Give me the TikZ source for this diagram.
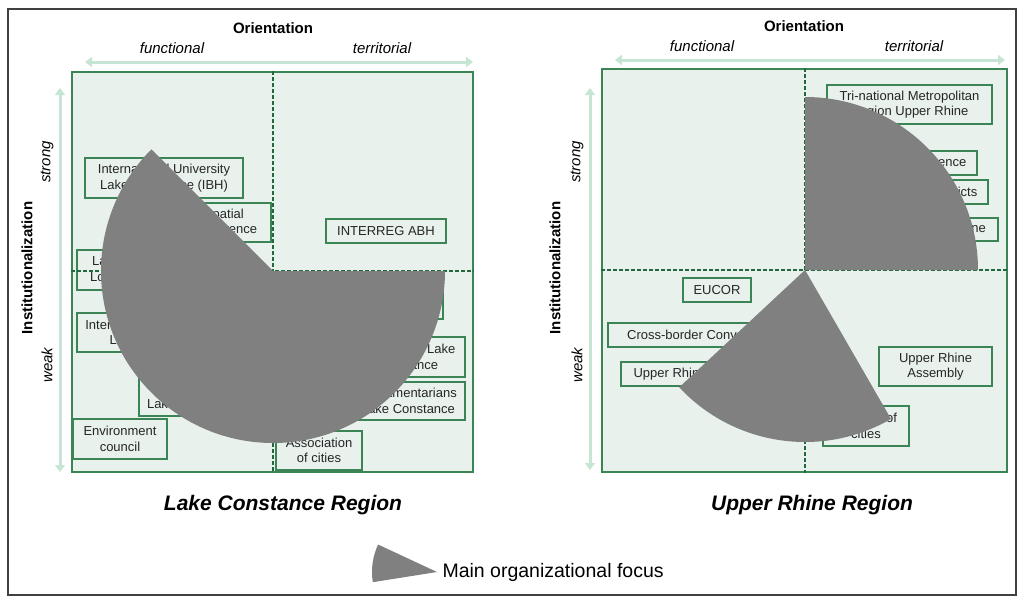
\documentclass[tikz,border=0pt]{standalone}
\usepackage{fontspec}
\setmainfont{Liberation Sans}
\usepackage{tikz}
\usetikzlibrary{arrows.meta,positioning,calc}

\definecolor{panelfill}{RGB}{232,241,236}
\definecolor{framegreen}{RGB}{58,132,86}
\definecolor{dashgreen}{RGB}{34,104,62}
\definecolor{axismint}{RGB}{198,229,212}
\definecolor{focusgray}{RGB}{128,128,128}

\begin{document}
\begin{tikzpicture}[
  x=1pt, y=-1pt,
  font=\fontsize{13}{15.5}\selectfont,
  panel/.style   = {draw=framegreen, fill=panelfill, line width=1.8pt},
  divider/.style = {dashgreen, dash pattern=on 4pt off 2pt, line width=1.5pt},
  org/.style     = {draw=framegreen, fill=panelfill, line width=1.3pt, align=center,
                    inner sep=1pt, text=black!85},
  axarrow/.style = {axismint, line width=3pt,
                    arrows={Triangle[length=7pt,width=10pt]-Triangle[length=7pt,width=10pt]}},
  focus/.style   = {fill=focusgray},
  axtitle/.style = {font=\fontsize{15}{18}\selectfont\bfseries},
  axend/.style   = {font=\fontsize{15}{18}\selectfont\itshape},
  regname/.style = {font=\fontsize{21}{25}\selectfont\bfseries\itshape},
  legtext/.style = {font=\fontsize{19.5}{23}\selectfont},
]
\useasboundingbox (0,0) rectangle (1024,605);
\draw[black!75, line width=1.6pt] (8,9) rectangle (1016,595);

% ----------------------------- Lake Constance panel -----------------------
\node[panel, minimum width=401pt, minimum height=400pt] (lpan) at (272.5,272) {};
\coordinate (lx) at (273,271);

\node[org, minimum width=158pt, minimum height=40pt] (ibh) at (164,178)
  {International University\\Lake Constance (IBH)};
\node[org, minimum width=149pt, minimum height=39pt] (spat) at (196.5,222.5)
  {Regional Spatial\\Planning Conference};
\node[org, minimum width=124pt, minimum height=40pt] (agenda) at (139,270)
  {Lake Constance\\Local Agenda 21};
\node[org, minimum width=159pt, minimum height=39pt] (iconf) at (156.5,332.5)
  {International Conference\\Lake Constance};
\node[org, minimum width=110pt, minimum height=40pt] (tour) at (194,396)
  {Tourism Board\\Lake Constance};
\node[org, minimum width=94pt, minimum height=40pt] (env) at (120,439)
  {Environment\\council};
\node[org, minimum width=120pt, minimum height=24pt] (iabh) at (386,231)
  {INTERREG ABH};
\node[org, minimum width=120pt, minimum height=39pt] (lcc) at (383,299.5)
  {Lake Constance\\Council};
\node[org, minimum width=116pt, minimum height=40pt] (found) at (407,357)
  {Foundation Lake\\Constance};
\node[org, minimum width=114pt, minimum height=38pt] (parl) at (408,401)
  {Parliamentarians\\Lake Constance};
\node[org, minimum width=86pt, minimum height=39pt] (lcity) at (319,450.5)
  {Association\\of cities};

\draw[divider] (lpan.north -| lx) -- (lpan.south -| lx);
\draw[divider] (lpan.west |- lx) -- (lpan.east |- lx);

\fill[focus] (lx) -- ++(-135:172) arc[start angle=-135, end angle=-360, radius=172] -- cycle;

% axes
\coordinate (lhl) at (85,62);  \coordinate (lhr) at (473,62);
\coordinate (lvt) at (60,88);  \coordinate (lvb) at (60,472);
\draw[axarrow] (lhl) -- (lhr);
\draw[axarrow] (lvt) -- (lvb);
\node[axtitle] (lori) at (273,28) {Orientation};
\node[axend] (lfun) at (172,48) {functional};
\node[axend] (lter) at (382,48) {territorial};
\node[axtitle, rotate=90] (linst) at (27,268) {Institutionalization};
\node[axend, rotate=90] (lstr) at (47,162) {strong};
\node[axend, rotate=90] (lweak) at (47,365) {weak};
\node[regname] (lreg) at (283,505) {Lake Constance Region};

% ----------------------------- Upper Rhine panel --------------------------
\node[panel, minimum width=405pt, minimum height=403pt] (rpan) at (804.5,270.5) {};
\coordinate (rx) at (805,270);

\node[org, minimum width=165pt, minimum height=39pt] (trina) at (909.5,104.5)
  {Tri-national Metropolitan\\Region Upper Rhine};
\node[org, minimum width=165pt, minimum height=24pt] (urconf) at (894.5,163)
  {Upper Rhine Conference};
\node[org, minimum width=93pt, minimum height=24pt] (eurod) at (941.5,192)
  {Eurodistricts};
\node[org, minimum width=168pt, minimum height=23pt] (iur) at (914,229.5)
  {INTERREG Upper Rhine};
\node[org, minimum width=68pt, minimum height=24pt] (eucor) at (717,290)
  {EUCOR};
\node[org, minimum width=190pt, minimum height=24pt] (conv) at (703,335)
  {Cross-border Conventions};
\node[org, minimum width=145pt, minimum height=24pt] (urcoun) at (693.5,374)
  {Upper Rhine Council};
\node[org, minimum width=113pt, minimum height=39pt] (urass) at (935.5,366.5)
  {Upper Rhine\\Assembly};
\node[org, minimum width=86pt, minimum height=40pt] (rcity) at (866,426)
  {Network of\\cities};

\draw[divider] (rpan.north -| rx) -- (rpan.south -| rx);
\draw[divider] (rpan.west |- rx) -- (rpan.east |- rx);

\fill[focus] (rx) -- ++(0:173) arc[start angle=0, end angle=-90, radius=173] -- cycle;
\fill[focus] (rx) -- ++(-223:172) arc[start angle=-223, end angle=-300, radius=172] -- cycle;

% axes
\coordinate (rhl) at (615,60);  \coordinate (rhr) at (1005,60);
\coordinate (rvt) at (590,88);  \coordinate (rvb) at (590,470);
\draw[axarrow] (rhl) -- (rhr);
\draw[axarrow] (rvt) -- (rvb);
\node[axtitle] (rori) at (804,26) {Orientation};
\node[axend] (rfun) at (702,46) {functional};
\node[axend] (rter) at (914,46) {territorial};
\node[axtitle, rotate=90] (rinst) at (555,268) {Institutionalization};
\node[axend, rotate=90] (rstr) at (577,162) {strong};
\node[axend, rotate=90] (rweak) at (577,365) {weak};
\node[regname] (rreg) at (812,505) {Upper Rhine Region};

% ----------------------------- legend -------------------------------------
\coordinate (lg) at (437,572);
\fill[focus] (lg) -- ++(-155:65) arc[start angle=-155, end angle=-189, radius=65] -- cycle;
\node[legtext, anchor=west, right=2pt of lg] (legt) {Main organizational focus};

\end{tikzpicture}
\end{document}
